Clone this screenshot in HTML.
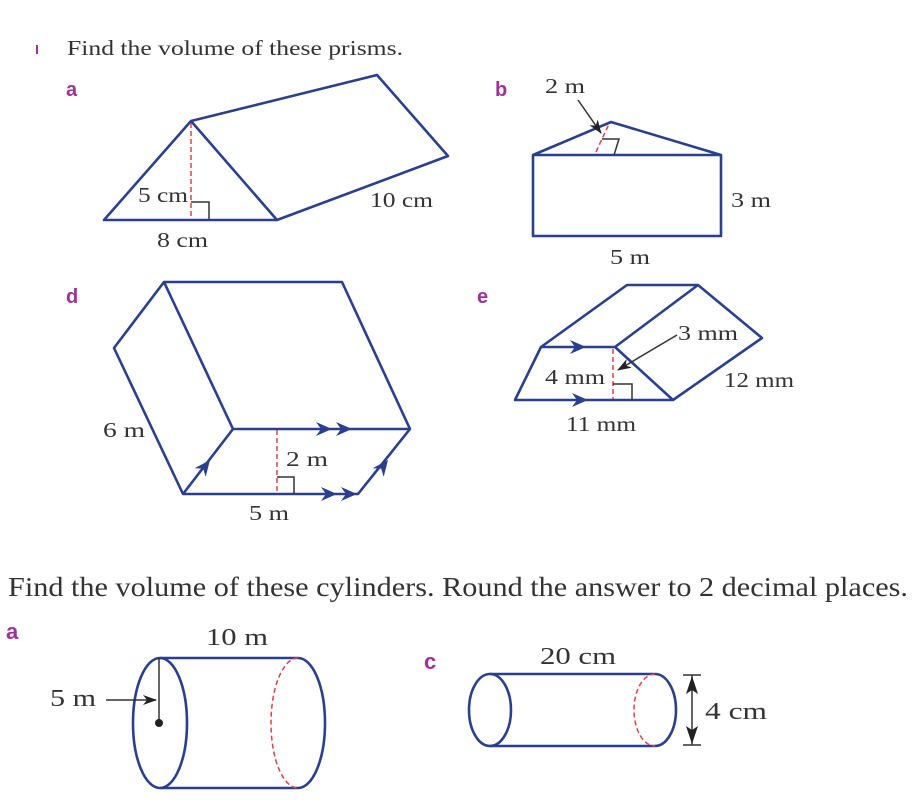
<!DOCTYPE html>
<html><head><style>
body{margin:0;background:#fff;}
svg{display:block;}
text{font-family:"Liberation Serif",serif;fill:#333;}
.l{font-family:"Liberation Sans",sans-serif;font-weight:bold;fill:#a0309a;}
.s{fill:none;stroke:#2a3f8f;stroke-width:2.6;stroke-linejoin:round;}
.r{fill:none;stroke:#e0404a;stroke-width:1.5;stroke-dasharray:5,3;}
.k{fill:none;stroke:#333;stroke-width:1.5;}
</style></head><body>
<svg width="923" height="803" viewBox="0 0 923 803">
<defs>
<marker id="ah" markerWidth="14" markerHeight="10" refX="13" refY="5" orient="auto" markerUnits="userSpaceOnUse"><path d="M0,0 L14,5 L0,10 L4,5z" fill="#222"/></marker>
<path id="tri" d="M0,0 l-16,-7 l5,7 l-5,7z" fill="#2a3f8f"/>
</defs>
<rect x="36" y="45" width="2" height="9" fill="#a0309a"/>
<text x="67" y="55" font-size="21" textLength="336" lengthAdjust="spacingAndGlyphs">Find the volume of these prisms.</text>
<!-- a -->
<text class="l" x="66" y="96" font-size="20">a</text>
<path class="s" d="M104,220 L191,121 L277,220 Z M191,121 L377,75 L448,156 L277,220"/>
<line class="r" x1="191" y1="123" x2="191" y2="219"/>
<path class="k" d="M191,202 H209 V219"/>
<text x="138" y="202" font-size="21" textLength="50" lengthAdjust="spacingAndGlyphs">5 cm</text>
<text x="157" y="247" font-size="21" textLength="51" lengthAdjust="spacingAndGlyphs">8 cm</text>
<text x="370" y="207" font-size="21" textLength="63" lengthAdjust="spacingAndGlyphs">10 cm</text>
<!-- b -->
<text class="l" x="495" y="96" font-size="20">b</text>
<text x="545" y="93" font-size="21" textLength="40" lengthAdjust="spacingAndGlyphs">2 m</text>
<path class="s" d="M533,155 H721 V236 H533 Z M533,155 L611,122 L721,155"/>
<line class="r" x1="596" y1="152" x2="609" y2="124"/>
<path class="k" d="M602,139 H619 L614,155"/>
<line class="k" x1="578" y1="100" x2="601" y2="133" marker-end="url(#ah)"/>
<text x="731" y="207" font-size="21" textLength="40" lengthAdjust="spacingAndGlyphs">3 m</text>
<text x="610" y="264" font-size="21" textLength="40" lengthAdjust="spacingAndGlyphs">5 m</text>
<!-- d -->
<text class="l" x="66" y="303" font-size="20">d</text>
<path class="s" d="M164,282 L114,348 L183,494 L358,494 L410,429 L342,282 Z M164,282 L233,429 L410,429 M233,429 L183,494"/>
<line class="r" x1="277" y1="430" x2="277" y2="493"/>
<path class="k" d="M277,477 H294 V494"/>
<use href="#tri" x="332" y="429"/><use href="#tri" x="352" y="429"/>
<use href="#tri" x="337" y="494"/><use href="#tri" x="357" y="494"/>
<use href="#tri" transform="translate(210,460) rotate(-52)"/>
<use href="#tri" transform="translate(388,460) rotate(-52)"/>
<text x="103" y="437" font-size="21" textLength="42" lengthAdjust="spacingAndGlyphs">6 m</text>
<text x="286" y="466" font-size="21" textLength="42" lengthAdjust="spacingAndGlyphs">2 m</text>
<text x="249" y="520" font-size="21" textLength="40" lengthAdjust="spacingAndGlyphs">5 m</text>
<!-- e -->
<text class="l" x="477" y="303" font-size="20">e</text>
<path class="s" d="M541,347 L615,347 L673,400 L515,400 Z M541,347 L627,285 L698,285 L762,338 L673,400 M615,347 L698,285"/>
<line class="r" x1="613" y1="349" x2="613" y2="399"/>
<path class="k" d="M613,384 H632 V400"/>
<use href="#tri" x="586" y="347"/><use href="#tri" x="588" y="400"/>
<line class="k" x1="677" y1="335" x2="618" y2="370" marker-end="url(#ah)"/>
<text x="678" y="340" font-size="21" textLength="60" lengthAdjust="spacingAndGlyphs">3 mm</text>
<text x="545" y="384" font-size="21" textLength="60" lengthAdjust="spacingAndGlyphs">4 mm</text>
<text x="724" y="387" font-size="21" textLength="70" lengthAdjust="spacingAndGlyphs">12 mm</text>
<text x="566" y="431" font-size="21" textLength="70" lengthAdjust="spacingAndGlyphs">11 mm</text>
<!-- cylinders -->
<text x="8" y="596" font-size="27" textLength="900" lengthAdjust="spacingAndGlyphs">Find the volume of these cylinders. Round the answer to 2 decimal places.</text>
<text class="l" x="6" y="639" font-size="22">a</text>
<text x="206" y="645" font-size="24" textLength="62" lengthAdjust="spacingAndGlyphs">10 m</text>
<ellipse class="s" cx="160" cy="723" rx="27" ry="65"/>
<path class="s" d="M160,658 H298 A27,65 0 0 1 298,788 H160"/>
<path class="r" d="M298,658 A27,65 0 0 0 298,788"/>
<line class="k" x1="159" y1="658" x2="159" y2="723"/>
<circle cx="159" cy="723" r="4" fill="#222"/>
<line class="k" x1="106" y1="700" x2="156" y2="700" marker-end="url(#ah)"/>
<text x="50" y="706" font-size="24" textLength="46" lengthAdjust="spacingAndGlyphs">5 m</text>
<text class="l" x="424" y="669" font-size="22">c</text>
<text x="540" y="664" font-size="24" textLength="76" lengthAdjust="spacingAndGlyphs">20 cm</text>
<ellipse class="s" cx="490" cy="710" rx="21" ry="36"/>
<path class="s" d="M490,674 H655 A21,36 0 0 1 655,746 H490"/>
<path class="r" d="M655,674 A21,36 0 0 0 655,746"/>
<path class="k" d="M683,675 H701 M683,745 H701 M692,675 V745"/>
<g fill="#222"><path d="M692,676 l-6,18 l6,-4 l6,4z M692,744 l-6,-18 l6,4 l6,-4z"/></g>
<text x="705" y="719" font-size="24" textLength="62" lengthAdjust="spacingAndGlyphs">4 cm</text>
</svg>
</body></html>
